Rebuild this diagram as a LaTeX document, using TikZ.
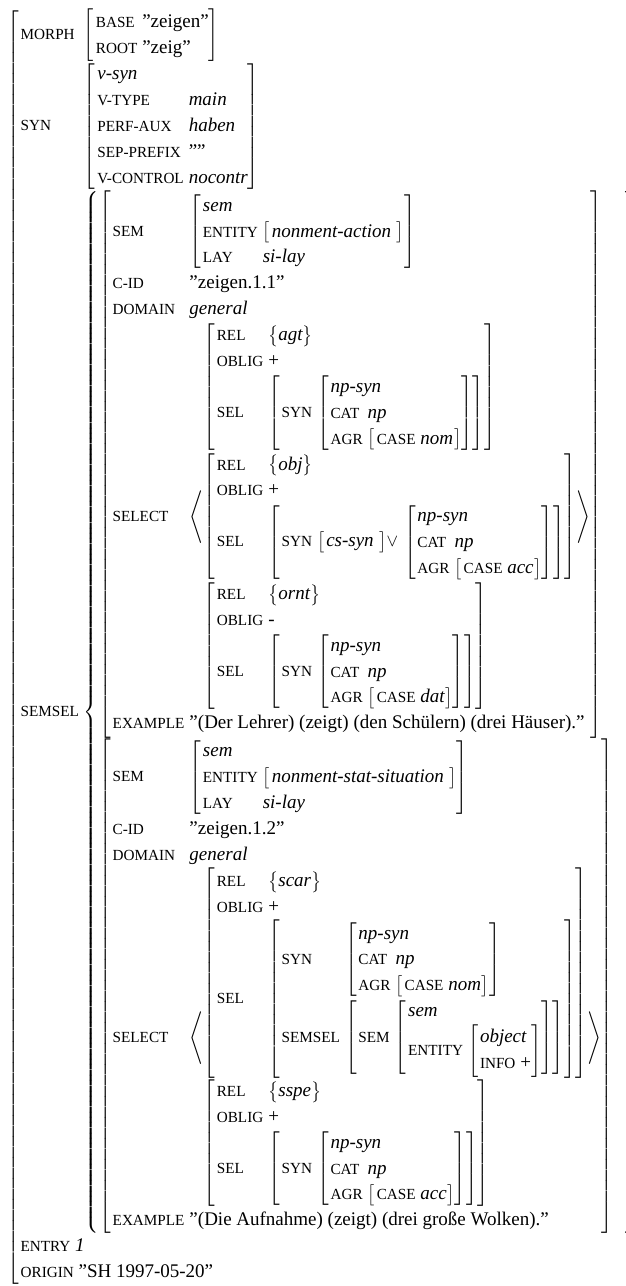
\documentclass[tikz,border=0pt]{standalone}
\usepackage{fontspec}
\setmainfont{Liberation Serif}
\usepackage{amsmath}
\usepackage{exscale}
\usepackage{array}
\usepackage{graphicx}
\newcolumntype{L}{l@{\hspace{5pt}}l}
\newcommand\at[1]{\mbox{\fontsize{15.2}{15.2}\selectfont #1}}
\newcommand\iv[1]{\mbox{\itshape #1}}
\newcommand\tv[1]{\mbox{#1}}
\newcommand\M[2]{\left[\mskip2mu\begin{array}{@{}#1@{}}#2\end{array}\right]}
\newcommand\MS[1]{\bigl[\mskip2mu\mbox{#1}\mskip1mu\bigr]}
\newcommand\SP[1]{\multicolumn{2}{@{}l@{}}{#1}}
\newcommand\npm[1]{\M{L}{\SP{\iv{np-syn}}\\ \at{CAT}&\iv{np}\\ \at{AGR}&\MS{\at{CASE} \iv{#1}}}}
\newcommand\semM[1]{\M{L}{\SP{\iv{sem}}\\ \at{ENTITY}&\MS{\iv{#1} }\\ \at{LAY}&\iv{si-lay}}}
\newcommand\rel[1]{\bigl\{\iv{#1}\bigr\}}
\newcommand\selel[3]{\M{L}{\at{REL}&\rel{#1}\\ \at{OBLIG}&\tv{#2}\\ \at{SEL}&\M{L}{#3}}}
\begin{document}
\begin{tikzpicture}[x=1pt,y=1pt]
\useasboundingbox (0,0) rectangle (626,-1286);
\fill[white] (0,0) rectangle (626,-1286);
\node[anchor=north west,inner sep=0pt,font=\fontsize{19}{25.5}\selectfont] (avm) at (7,-9) {\scalebox{1}[1.015]{$\M{L}{%
\at{MORPH}&\M{L}{\at{BASE}&\tv{”zeigen”}\\ \at{ROOT}&\tv{”zeig”}}\\
\at{SYN}&\M{L}{\SP{\iv{v-syn}}\\ \at{V-TYPE}&\iv{main}\\ \at{PERF-AUX}&\iv{haben}\\ \at{SEP-PREFIX}&\tv{””}\\ \at{V-CONTROL}&\iv{nocontr}}\\
\at{SEMSEL}&\left\{\begin{array}{@{}l@{\hspace{10pt}}}
\M{L}{%
\at{SEM}&\semM{nonment-action}\\
\at{C-ID}&\tv{”zeigen.1.1”}\\
\at{DOMAIN}&\iv{general}\\
\at{SELECT}&\left\langle\begin{array}{@{}l@{}}
 \selel{agt}{+}{\at{SYN}&\npm{nom}}\\
 \selel{obj}{+}{\at{SYN}&\MS{\iv{cs-syn} }\mathord{\vee}\hspace{3pt}\npm{acc}}\\
 \selel{ornt}{-}{\at{SYN}&\npm{dat}}
\end{array}\right\rangle\\
\at{EXAMPLE}&\tv{”(Der Lehrer) (zeigt) (den Schülern) (drei Häuser).”}}\\
\M{L}{%
\at{SEM}&\semM{nonment-stat-situation}\\
\at{C-ID}&\tv{”zeigen.1.2”}\\
\at{DOMAIN}&\iv{general}\\
\at{SELECT}&\left\langle\begin{array}{@{}l@{}}
 \selel{scar}{+}{\at{SYN}&\npm{nom}\\ \at{SEMSEL}&\M{L}{\at{SEM}&\M{L}{\SP{\iv{sem}}\\ \at{ENTITY}&\M{L}{\SP{\iv{object}}\\ \at{INFO}&\tv{+}}}}}\\
 \selel{sspe}{+}{\at{SYN}&\npm{acc}}
\end{array}\right\rangle\\
\at{EXAMPLE}&\tv{”(Die Aufnahme) (zeigt) (drei große Wolken).”}}
\end{array}\right\}\\
\SP{\mbox{\at{ENTRY} \iv{1}}}\\
\SP{\mbox{\at{ORIGIN} ”SH 1997-05-20”}}}$}};
\end{tikzpicture}
\end{document}
